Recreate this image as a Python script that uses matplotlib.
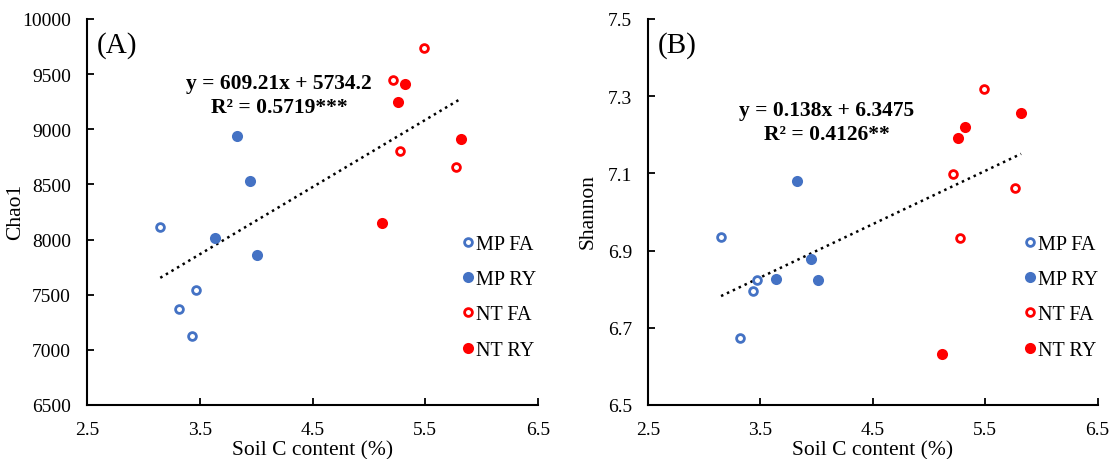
import matplotlib

matplotlib.use("Agg")
import matplotlib.pyplot as plt
import numpy as np

plt.rcParams["font.family"] = ["Liberation Serif", "DejaVu Serif"]

BLUE = "#4472C4"
RED = "#FF0000"

# soil C content (%) per sample group
mp_fa_x = [3.15, 3.32, 3.43, 3.47]
mp_ry_x = [3.83, 3.95, 3.635, 4.01]
nt_fa_x = [5.49, 5.21, 5.28, 5.77]
nt_ry_x = [5.32, 5.26, 5.82, 5.12]

# Chao1
mp_fa_chao = [8110, 7370, 7128, 7540]
mp_ry_chao = [8936, 8531, 8017, 7857]
nt_fa_chao = [9740, 9444, 8806, 8655]
nt_ry_chao = [9414, 9245, 8909, 8150]

# Shannon
mp_fa_shan = [6.936, 6.674, 6.796, 6.824]
mp_ry_shan = [7.080, 6.879, 6.826, 6.824]
nt_fa_shan = [7.319, 7.099, 6.933, 7.062]
nt_ry_shan = [7.220, 7.193, 7.257, 6.633]

chao_fit = (609.21, 5734.2)
shan_fit = (0.138, 6.3475)
fit_range = (3.15, 5.82)

x_ticks = [2.5, 3.5, 4.5, 5.5, 6.5]
chao_ticks = [6500, 7000, 7500, 8000, 8500, 9000, 9500, 10000]
shan_ticks = [6.5, 6.7, 6.9, 7.1, 7.3, 7.5]


def draw_panel(ax, ys, fit, yticks, ylabel, tag, eq, r2, eq_pos, ylab_x, leg_x):
    groups = [
        (mp_fa_x, ys[0], BLUE, True, "MP FA"),
        (mp_ry_x, ys[1], BLUE, False, "MP RY"),
        (nt_fa_x, ys[2], RED, True, "NT FA"),
        (nt_ry_x, ys[3], RED, False, "NT RY"),
    ]
    for xs, yv, color, hollow, label in groups:
        if hollow:
            ax.plot(xs, yv, "o", ms=5.6, mfc="white", mec=color, mew=2.0,
                    ls="none", label=label, zorder=3)
        else:
            ax.plot(xs, yv, "o", ms=8.0, mfc=color, mec=color, mew=0,
                    ls="none", label=label, zorder=3)

    fx = np.array(fit_range)
    ax.plot(fx, fit[0] * fx + fit[1], color="black", lw=1.8,
            ls=(0, (1, 1.6)), zorder=2)

    ax.set_xlim(2.5, 6.5)
    ax.set_ylim(yticks[0], yticks[-1])
    ax.set_xticks(x_ticks)
    ax.set_xticklabels([f"{v:.1f}" for v in x_ticks])
    ax.set_yticks(yticks)
    if isinstance(yticks[0], float):
        ax.set_yticklabels([f"{v:.1f}" for v in yticks])
    ax.spines["top"].set_visible(False)
    ax.spines["right"].set_visible(False)
    for s in ("left", "bottom"):
        ax.spines[s].set_linewidth(1.5)
    ax.tick_params(direction="in", length=5, width=1.3, labelsize=14, pad=11.5)
    ax.set_xlabel("Soil C content (%)", fontsize=15.5)
    ax.set_ylabel(ylabel, fontsize=15.5)
    ax.xaxis.set_label_coords(0.5, -0.09)
    ax.yaxis.set_label_coords(ylab_x, 0.503)

    ax.text(0.022, 0.935, tag, transform=ax.transAxes, fontsize=21,
            ha="left", va="center")
    ax.text(eq_pos[0], eq_pos[1], eq + "\n" + r2, transform=ax.transAxes,
            fontsize=15.5, fontweight="bold", ha="center", va="center",
            linespacing=1.25)

    ax.legend(loc="center left", bbox_to_anchor=(leg_x, 0.279), frameon=False,
              fontsize=14.5, handlelength=0.6, handletextpad=0.12,
              labelspacing=0.8, borderpad=0, borderaxespad=0)


fig = plt.figure(figsize=(11.12, 4.6), dpi=100)
ax1 = fig.add_axes([87 / 1112, 54 / 460, 451 / 1112, 386 / 460])
ax2 = fig.add_axes([648 / 1112, 54 / 460, 449.5 / 1112, 386 / 460])

draw_panel(ax1, [mp_fa_chao, mp_ry_chao, nt_fa_chao, nt_ry_chao], chao_fit,
           chao_ticks, "Chao1", "(A)", "y = 609.21x + 5734.2", "R² = 0.5719***",
           (0.426, 0.803), -0.137, 0.831)
draw_panel(ax2, [mp_fa_shan, mp_ry_shan, nt_fa_shan, nt_ry_shan], shan_fit,
           shan_ticks, "Shannon", "(B)", "y = 0.138x + 6.3475", "R² = 0.4126**",
           (0.398, 0.734), -0.111, 0.836)

fig.savefig("out.png", dpi=100)
plt.close(fig)
